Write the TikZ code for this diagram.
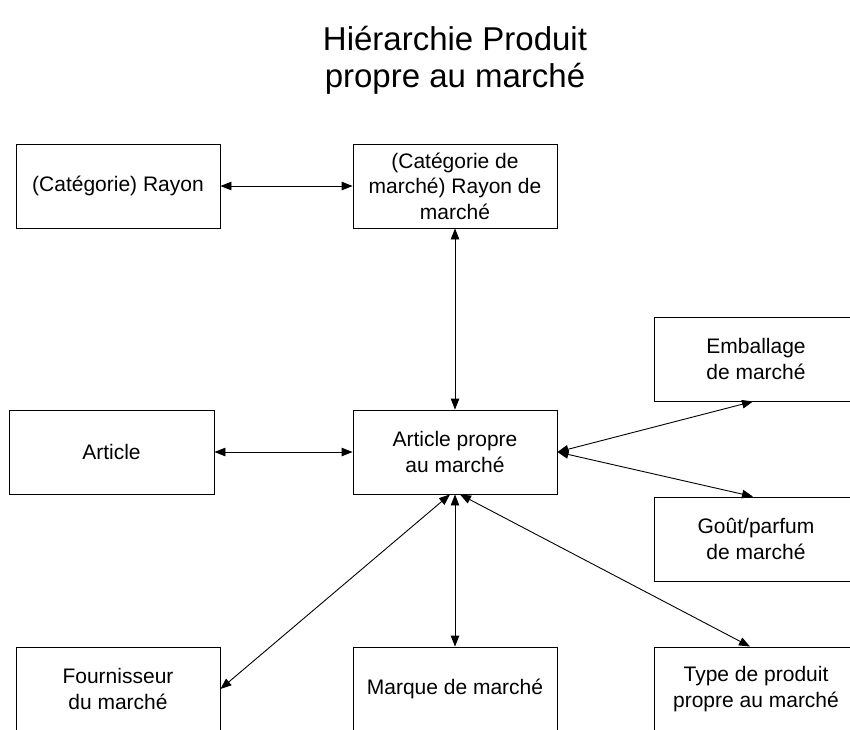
\documentclass[tikz,border=0pt]{standalone}
\usepackage{fontspec}
\setmainfont{Liberation Sans}
\usetikzlibrary{arrows.meta,calc}
\begin{document}
\begin{tikzpicture}[x=1pt,y=-1pt,
  box/.style={draw,line width=0.9pt,minimum width=204pt,minimum height=84pt,
    align=center,inner sep=0pt,font=\fontsize{21}{25.5}\selectfont},
  link/.style={line width=0.9pt,
    {Triangle[length=11pt,width=8.5pt]}-{Triangle[length=11pt,width=8.5pt]}}]
\useasboundingbox (0,0) rectangle (850,729);
\clip (0,0) rectangle (850,729);

% title
\node[align=center,font=\fontsize{33}{37}\selectfont] (title) at (455,60)
  {Hiérarchie Produit\\propre au marché};

% boxes
\node[box] (cat)    at (118,186) {(Catégorie) Rayon};
\node[box] (mcat)   at (455,186) {(Catégorie de\\marché) Rayon de\\marché};
\node[box,minimum width=205pt] (art) at (111.5,452) {Article};
\node[box] (ap)     at (455,452) {Article propre\\au marché};
\node[box] (emb)    at (756,359) {Emballage\\de marché};
\node[box] (gout)   at (756,539) {Goût/parfum\\de marché};
\node[box] (four)   at (118,689) {Fournisseur\\du marché};
\node[box] (marque) at (455,689) {Marque de marché};
\node[box] (type)   at (756,689) {Type de produit\\propre au marché};

% connectors
\draw[link] (cat.east) -- (mcat.west);
\draw[link] (mcat.south) -- (ap.north);
\draw[link] (art.east) -- (ap.west);
\draw[link] (ap.east) -- ($(emb.south)+(-3,0)$);
\draw[link] (ap.east) -- ($(gout.north)+(-3,0)$);
\draw[link] ($(ap.south)+(-5,0)$) -- (four.east);
\draw[link] (ap.south) -- (marque.north);
\draw[link] ($(ap.south)+(5,0)$) -- ($(type.north)+(-6,0)$);
\end{tikzpicture}
\end{document}
